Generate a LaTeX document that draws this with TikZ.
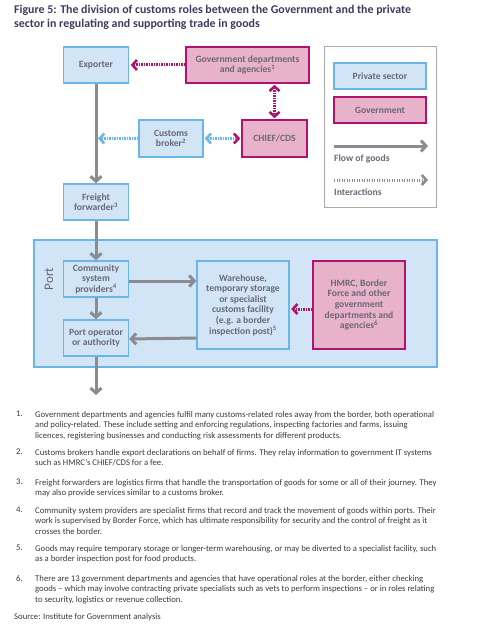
\documentclass[tikz,border=0pt]{standalone}
\usepackage{fontspec}
\setmainfont{Carlito}
\usetikzlibrary{arrows.meta}
\definecolor{pfill}{HTML}{D2E5F6}
\definecolor{pline}{HTML}{6BB6E6}
\definecolor{gfill}{HTML}{E8B2CA}
\definecolor{gline}{HTML}{B0136E}
\definecolor{boxtxt}{HTML}{6A6878}
\definecolor{flowc}{HTML}{8C8B90}
\definecolor{titlec}{HTML}{3A3B5E}
\definecolor{notec}{HTML}{3A3A3A}
\definecolor{legc}{HTML}{AAAAAA}
\tikzset{
  boxbase/.style={inner sep=0pt, align=center, text=boxtxt,
    font=\fontsize{9.6}{10.6}\selectfont\bfseries},
  pbox/.style={boxbase, draw=pline, fill=pfill, line width=1.4pt},
  gbox/.style={boxbase, draw=gline, fill=gfill, line width=1.6pt},
  tipb/.style={length=5pt,width=11pt},
  flowarrow/.style={draw=flowc, line width=3pt, -{Straight Barb[length=5pt,width=11pt]}},
  dotline/.style={line width=3pt, dash pattern=on 1.4pt off 1.1pt},
  govdot/.style={dotline, draw=gline, -{Straight Barb[length=4.5pt,width=10pt,line width=2.6pt]}},
  govdotb/.style={dotline, draw=gline, {Straight Barb[length=4.5pt,width=10pt,line width=2.6pt]}-{Straight Barb[length=4.5pt,width=10pt,line width=2.6pt]}},
  pdot/.style={dotline, draw=pline, -{Straight Barb[length=4.5pt,width=10pt,line width=2.6pt]}},
  note/.style={inner sep=0pt, anchor=north west, align=left, text=notec,
    font=\fontsize{8.7}{10.7}\selectfont},
  notenum/.style={inner sep=0pt, anchor=north west, text=notec,
    font=\fontsize{8.7}{10.7}\selectfont},
}
\begin{document}
\begin{tikzpicture}[x=1pt,y=-1pt]
\useasboundingbox (0,0) rectangle (484,626);
% title
\node[inner sep=0pt, anchor=north west, align=left, text=titlec,
  font=\fontsize{11.9}{14.2}\selectfont\bfseries] (title) at (14,5)
  {Figure 5: The division of customs roles between the Government and the private\\
   sector in regulating and supporting trade in goods};
% port area
\node[draw=pline, fill=pfill, line width=1.4pt, minimum width=403pt, minimum height=127pt,
  inner sep=0pt] (port) at (235.5,303.5) {};
\node[rotate=90, text=boxtxt, inner sep=0pt, font=\fontsize{13}{13}\selectfont] (portlbl) at (49,279) {Port};
% boxes
\node[pbox, minimum width=65pt, minimum height=36pt] (exp) at (96,65) {Exporter};
\node[gbox, minimum width=123pt, minimum height=36pt] (gov) at (247.5,65)
  {Government departments\\and agencies\textsuperscript{1}};
\node[gbox, minimum width=65pt, minimum height=37pt] (chief) at (274.5,138.5) {CHIEF/CDS};
\node[pbox, minimum width=64pt, minimum height=37pt] (broker) at (171,138.5)
  {Customs\\broker\textsuperscript{2}};
\node[pbox, minimum width=65pt, minimum height=36pt] (ff) at (96,202)
  {Freight\\forwarder\textsuperscript{3}};
\node[pbox, minimum width=65pt, minimum height=36pt] (csp) at (96,279)
  {Community\\system\\providers\textsuperscript{4}};
\node[pbox, minimum width=65pt, minimum height=36pt] (pop) at (96,338)
  {Port operator\\or authority};
\node[pbox, minimum width=92pt, minimum height=88pt] (wh) at (243,305)
  {Warehouse,\\temporary storage\\or specialist\\customs facility\\(e.g. a border\\inspection post)\textsuperscript{5}};
\node[gbox, minimum width=92pt, minimum height=88pt] (hmrc) at (359,305)
  {HMRC, Border\\Force and other\\government\\departments and\\agencies\textsuperscript{6}};
% legend
\node[draw=legc, line width=1pt, minimum width=112pt, minimum height=160pt, inner sep=0pt] (leg) at (380,127) {};
\node[pbox, minimum width=92pt, minimum height=26pt] (lp) at (380,76) {Private sector};
\node[gbox, minimum width=92pt, minimum height=26pt] (lg) at (380,110) {Government};
\coordinate (lfa) at (334,146);
\coordinate (lfb) at (428,146);
\coordinate (lia) at (334,180);
\coordinate (lib) at (428,180);
\draw[flowarrow] (lfa) -- (lfb);
\draw[dotline, draw=flowc, -{Straight Barb[length=4.5pt,width=10pt,line width=2.6pt]}] (lia) -- (lib);
\node[boxbase, anchor=west] (lflow) at (334,159) {Flow of goods};
\node[boxbase, anchor=west] (linter) at (334,192) {Interactions};
% flows
\coordinate (out) at (96,395);
\draw[flowarrow] (exp.south) -- (ff.north);
\draw[flowarrow] (ff.south) -- (csp.north);
\draw[flowarrow] (csp.south) -- (pop.north);
\draw[flowarrow] ([yshift=-2pt]csp.east) -- ([yshift=-2pt]wh.west |- csp.east);
\draw[flowarrow] (wh.west |- pop.east) -- ([yshift=-1pt]pop.east);
\draw[flowarrow] (pop.south) -- (out);
% interactions
\coordinate (bend) at (98,138.5);
\draw[govdot] (gov.west) -- ([xshift=1.5pt]exp.east);
\draw[govdotb] ([yshift=-1pt]chief.north |- gov.south) -- ([yshift=1pt]chief.north);
\draw[dotline, draw=pline, {Straight Barb[length=4.5pt,width=10pt,line width=2.6pt,color=pline]}-{Straight Barb[length=4.5pt,width=10pt,line width=2.6pt,color=gline]}] ([xshift=1pt]broker.east) -- ([xshift=-1pt]chief.west);
\draw[pdot] (broker.west) -- (bend);
\draw[govdot] ([yshift=-4pt]hmrc.west) -- ([yshift=-4pt,xshift=1.5pt]wh.east);
% notes
\node[notenum] (n1) at (16,411) {1.};
\node[note] (t1) at (35,411) {Government departments and agencies fulfil many customs-related roles away from the border, both operational\\and policy-related. These include setting and enforcing regulations, inspecting factories and farms, issuing\\licences, registering businesses and conducting risk assessments for different products.};
\node[notenum] (n2) at (16,449) {2.};
\node[note] (t2) at (35,449) {Customs brokers handle export declarations on behalf of firms. They relay information to government IT systems\\such as HMRC’s CHIEF/CDS for a fee.};
\node[notenum] (n3) at (16,479) {3.};
\node[note] (t3) at (35,479) {Freight forwarders are logistics firms that handle the transportation of goods for some or all of their journey. They\\may also provide services similar to a customs broker.};
\node[notenum] (n4) at (16,507) {4.};
\node[note] (t4) at (35,507) {Community system providers are specialist firms that record and track the movement of goods within ports. Their\\work is supervised by Border Force, which has ultimate responsibility for security and the control of freight as it\\crosses the border.};
\node[notenum] (n5) at (16,545) {5.};
\node[note] (t5) at (35,545) {Goods may require temporary storage or longer-term warehousing, or may be diverted to a specialist facility, such\\as a border inspection post for food products.};
\node[notenum] (n6) at (16,575) {6.};
\node[note] (t6) at (35,575) {There are 13 government departments and agencies that have operational roles at the border, either checking\\goods -- which may involve contracting private specialists such as vets to perform inspections -- or in roles relating\\to security, logistics or revenue collection.};
\node[notenum] (src) at (14,613) {Source: Institute for Government analysis};
\end{tikzpicture}
\end{document}
